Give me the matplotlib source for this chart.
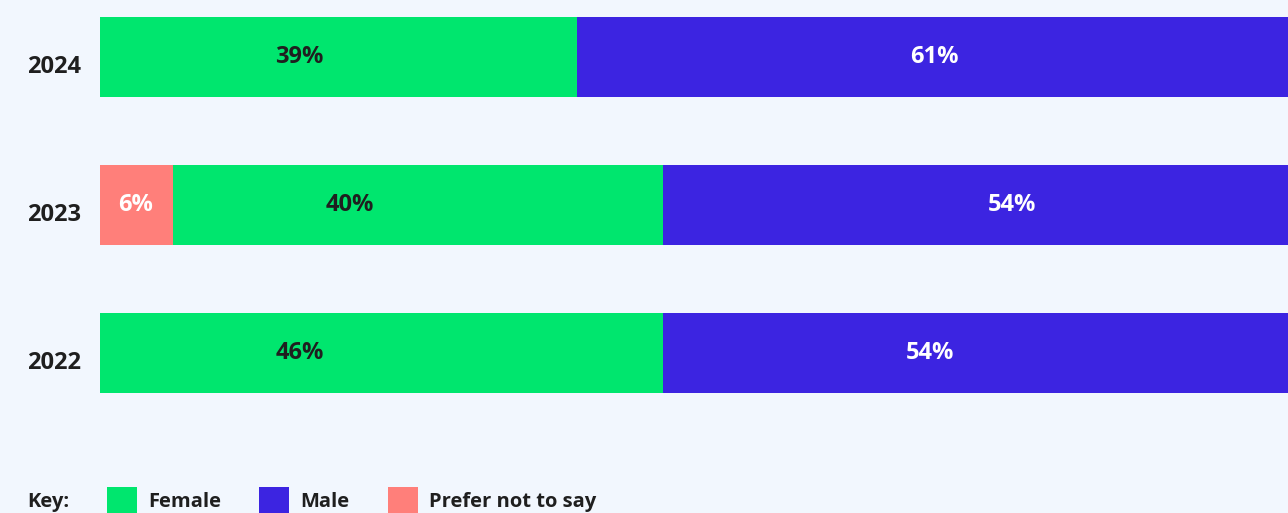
import matplotlib
matplotlib.use("Agg")
import matplotlib.pyplot as plt
from matplotlib.patches import Rectangle
from matplotlib.transforms import ScaledTranslation

years = ["2022", "2023", "2024"]
prefer_not = [0, 6, 0]
female = [46, 40, 39]
male = [54, 54, 61]
# label x positions (data units)
prefer_lbl_x = [None, 2.9, None]
female_lbl_x = [16.3, 20.4, 16.3]
male_lbl_x = [67.8, 74.5, 68.2]

BG = "#F2F7FE"
GREEN = "#00E66E"
BLUE = "#3C24E1"
PINK = "#FF7F7A"
DARK = "#1F1F1F"
FONT = ["Open Sans", "DejaVu Sans"]

W, H = 1288, 513
fig = plt.figure(figsize=(W / 100, H / 100), dpi=100)
fig.patch.set_facecolor(BG)
ax = fig.add_axes([100 / W, 0, 1 - 100 / W, 1])
ax.set_facecolor(BG)

y = list(range(len(years)))
bh = 80 / 148
ax.barh(y, prefer_not, height=bh, color=PINK, linewidth=0)
ax.barh(y, female, left=prefer_not, height=bh, color=GREEN, linewidth=0)
left_m = [p + f for p, f in zip(prefer_not, female)]
ax.barh(y, male, left=left_m, height=bh, color=BLUE, linewidth=0)

LS = 17
for i in y:
    if prefer_not[i] > 0:
        ax.text(prefer_lbl_x[i], i, f"{prefer_not[i]}%", ha="center", va="center",
                color="white", fontsize=LS, fontweight="bold", family=FONT)
    ax.text(female_lbl_x[i], i, f"{female[i]}%", ha="center", va="center",
            color=DARK, fontsize=LS, fontweight="bold", family=FONT)
    ax.text(male_lbl_x[i], i, f"{male[i]}%", ha="center", va="center",
            color="white", fontsize=LS, fontweight="bold", family=FONT)

ax.set_xlim(0, 100 * 1188 / 1224)
ax.set_ylim(-(513 - 353) / 148, 2 + 57 / 148)
ax.set_yticks(y)
ax.set_yticklabels(years, fontsize=17, color=DARK, family=FONT, fontweight="bold")
ax.tick_params(axis="y", length=0, pad=14)
off = ScaledTranslation(0, -7 / 100, fig.dpi_scale_trans)
for lab in ax.get_yticklabels():
    lab.set_transform(lab.get_transform() + off)
ax.set_xticks([])
for s in ax.spines.values():
    s.set_visible(False)

# legend
def fx(px):
    return px / W

def fy(py):
    return 1 - py / H

ty = fy(502)
fig.text(fx(27), ty, "Key:", ha="left", va="center", fontsize=14.5, fontweight="bold",
         color=DARK, family=FONT)
items = [("Female", GREEN, 107), ("Male", BLUE, 259), ("Prefer not to say", PINK, 388)]
for name, col, x0 in items:
    fig.patches.append(Rectangle((fx(x0), fy(516)), 30 / W, 29 / H, transform=fig.transFigure,
                                 facecolor=col, edgecolor="none"))
    fig.text(fx(x0 + 41), ty, name, ha="left", va="center", fontsize=14.5, fontweight="bold",
             color=DARK, family=FONT)

fig.savefig("out.png", dpi=100, facecolor=BG)
